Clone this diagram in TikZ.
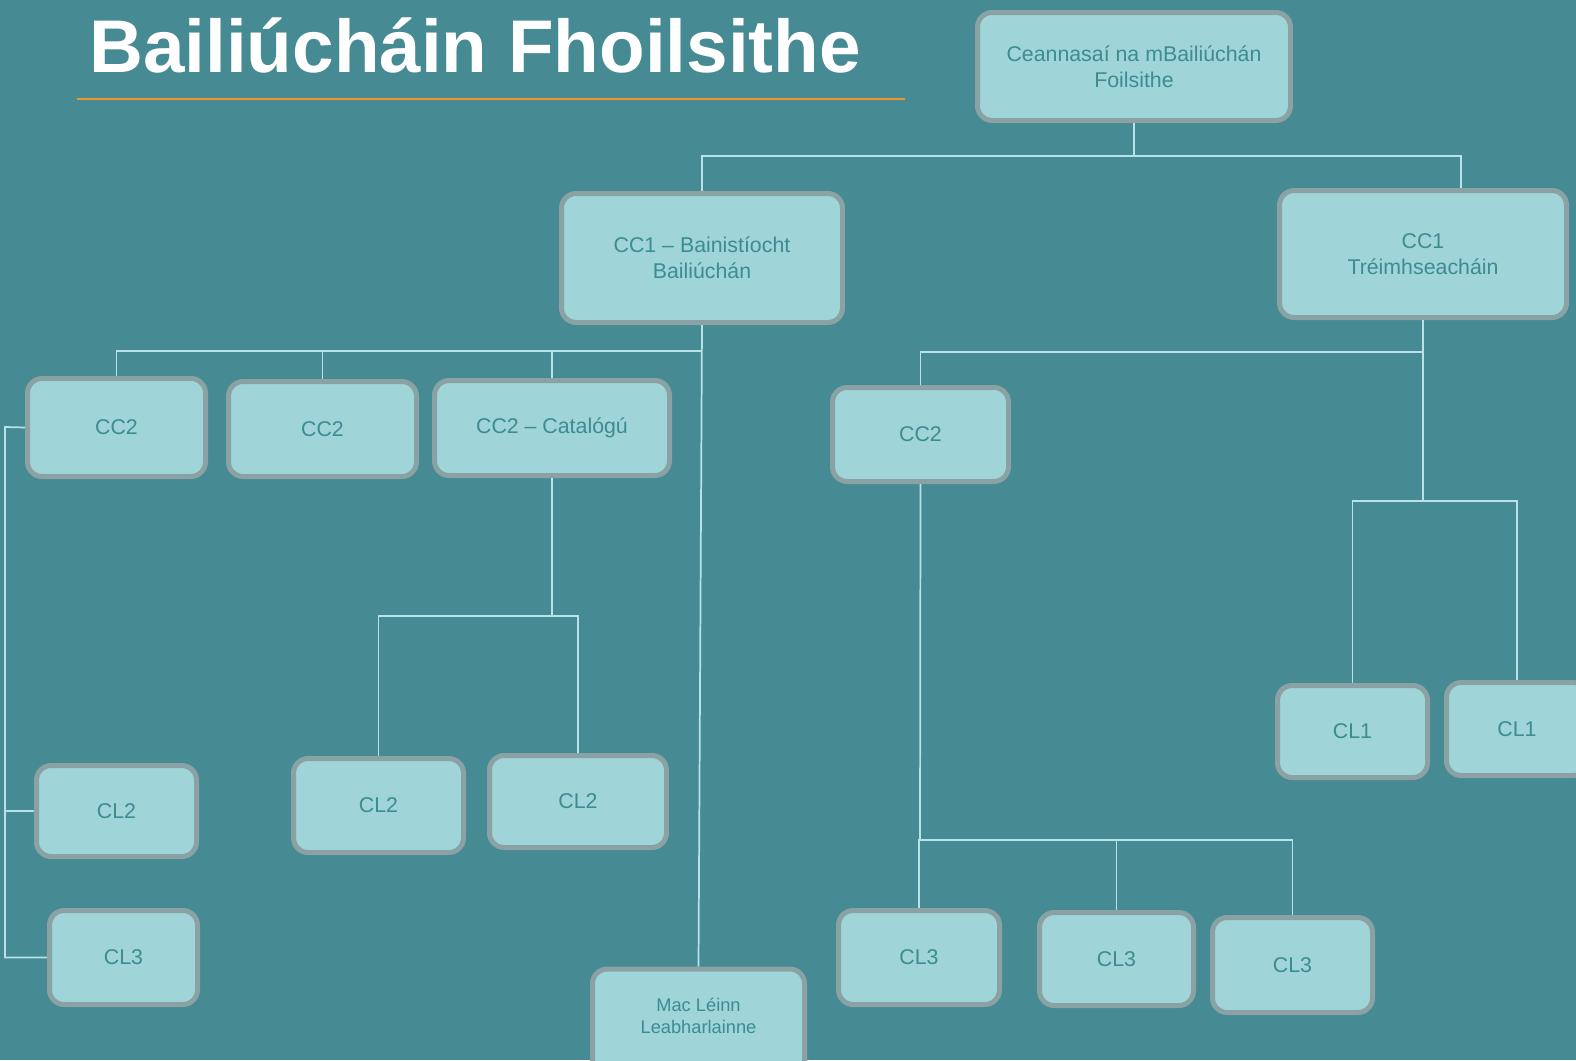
\documentclass[tikz,border=0pt]{standalone}
\usepackage{fontspec}
\setmainfont{Liberation Sans}
\definecolor{bgc}{RGB}{70,138,148}
\definecolor{boxc}{RGB}{159,212,216}
\definecolor{bordc}{RGB}{138,162,163}
\definecolor{txtc}{RGB}{60,140,146}
\definecolor{linec}{RGB}{182,226,232}
\definecolor{orangec}{RGB}{240,150,40}
\tikzset{
  box/.style={draw=bordc, line width=3.75pt, fill=boxc, rounded corners=11pt,
    text=txtc, font=\fontsize{16}{19.5}\selectfont, align=center, inner sep=0pt},
  smallbox/.style={box, font=\fontsize{13.7}{16.5}\selectfont},
  conn/.style={draw=linec, line width=1.3pt},
}
\begin{document}
\begin{tikzpicture}[x=0.75pt,y=-0.75pt]
\useasboundingbox (0,0) rectangle (1576,1060);
\fill[bgc] (0,0) rectangle (1576,1060);

% title
\node[anchor=base west, text=white, font=\fontsize{56}{60}\selectfont\bfseries, inner sep=0pt] (title) at (89,72) {Bailiúcháin Fhoilsithe};
\coordinate (ul1) at (77,98.5);
\coordinate (ul2) at (905,98.5);
\draw[orangec, line width=1.5pt] (ul1) -- (ul2);

% nodes
\node[box, minimum width=0.75*313pt, minimum height=0.75*108pt] (top) at (1134,66.5) {Ceannasaí na mBailiúchán\\Foilsithe};
\node[box, minimum width=0.75*281pt, minimum height=0.75*129pt] (cc1l) at (702,258) {CC1 – Bainistíocht\\Bailiúchán};
\node[box, minimum width=0.75*287pt, minimum height=0.75*127pt] (cc1r) at (1423,254) {CC1\\Tréimhseacháin};
\node[box, minimum width=0.75*178pt, minimum height=0.75*98pt] (cc2a) at (116.5,427.5) {CC2};
\node[box, minimum width=0.75*188pt, minimum height=0.75*95pt] (cc2b) at (322.5,429) {CC2};
\node[box, minimum width=0.75*235pt, minimum height=0.75*95pt] (cc2c) at (552,428) {CC2 – Catalógú};
\node[box, minimum width=0.75*176pt, minimum height=0.75*94pt] (cc2r) at (920.5,434.5) {CC2};
\node[box, minimum width=0.75*150pt, minimum height=0.75*92pt] (cl1a) at (1352.5,731.5) {CL1};
\node[box, minimum width=0.75*141pt, minimum height=0.75*93pt] (cl1b) at (1517,729) {CL1};
\node[box, minimum width=0.75*160pt, minimum height=0.75*91pt] (cl2l) at (116.5,811) {CL2};
\node[box, minimum width=0.75*148pt, minimum height=0.75*94pt] (cl3l) at (123.5,957.5) {CL3};
\node[box, minimum width=0.75*170pt, minimum height=0.75*94pt] (cl2a) at (378.5,805.5) {CL2};
\node[box, minimum width=0.75*177pt, minimum height=0.75*92pt] (cl2b) at (578,801.5) {CL2};
\node[smallbox, minimum width=0.75*212pt, minimum height=0.75*116pt, anchor=north] (mac) at (698.5,966.5) {};
\node[text=txtc, font=\fontsize{13.7}{16.5}\selectfont, align=center, inner sep=0pt] (mactxt) at (698.5,1016) {Mac Léinn\\Leabharlainne};
\node[box, minimum width=0.75*161pt, minimum height=0.75*94pt] (cl3a) at (919,957.5) {CL3};
\node[box, minimum width=0.75*154pt, minimum height=0.75*93pt] (cl3b) at (1116.5,959) {CL3};
\node[box, minimum width=0.75*160pt, minimum height=0.75*95pt] (cl3c) at (1292.5,965) {CL3};

% junctions
\coordinate (j1) at (1134,156);
\coordinate (j1r) at (1461,156);
\coordinate (j2) at (702,351);
\coordinate (lb) at (5,427);
\coordinate (j3) at (552,616);
\coordinate (j4) at (1423,352);
\coordinate (j5) at (1423,501);
\coordinate (j6) at (920,840);

% connectors
\draw[conn] (top.south) -- (j1);
\draw[conn] (cc1l.north) |- (j1) -- (j1r) -- (j1r |- cc1r.north);
\draw[conn] (cc1l.south) -- (mac.north);
\draw[conn] (cc2a.north) |- (j2);
\draw[conn] (cc2b.north) -- (cc2b.north |- j2);
\draw[conn] (cc2c.north) -- (cc2c.north |- j2);
\draw[conn] (cc2a.west) -- (lb) |- (cl3l.west);
\draw[conn] (cl2l.west) -- (cl2l.west -| lb);
\draw[conn] (cc2c.south) -- (j3);
\draw[conn] (cl2a.north) |- (j3) -| (cl2b.north);
\draw[conn] (cc1r.south) -- (j5);
\draw[conn] (cc2r.north) |- (j4);
\draw[conn] (cl1a.north) |- (j5) -| (cl1b.north);
\draw[conn] (cc2r.south) -- (j6);
\draw[conn] (cl3a.north) |- (j6) -| (cl3c.north);
\draw[conn] (cl3b.north) -- (cl3b.north |- j6);
\end{tikzpicture}
\end{document}
